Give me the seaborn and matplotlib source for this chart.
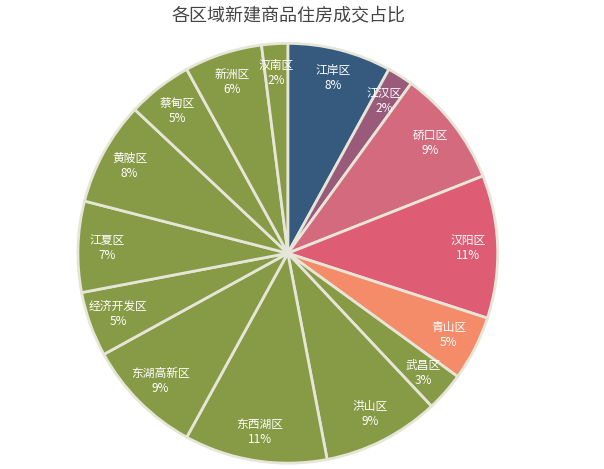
import matplotlib
matplotlib.use("Agg")
import matplotlib.pyplot as plt
import seaborn as sns

sns.set_theme(style="white")
plt.rcParams["font.family"] = "Noto Sans CJK SC"

districts = ["江岸区", "江汉区", "硚口区", "汉阳区", "青山区", "武昌区", "洪山区", "东西湖区",
             "东湖高新区", "经济开发区", "江夏区", "黄陂区", "蔡甸区", "新洲区", "汉南区"]
shares = [8, 2, 9, 11, 5, 3, 9, 11, 9, 5, 7, 8, 5, 6, 2]
olive = "#879a45"
colors = ["#355a7e", "#9a5a7a", "#d46a7e", "#de5c74", "#f48c6a"] + [olive] * 10

fig = plt.figure(figsize=(6.04, 4.69), dpi=100)
ax = fig.add_axes([0.129, 0.012, 0.695, 0.896])
wedges, _ = ax.pie(shares, colors=colors, startangle=90, counterclock=False,
                   wedgeprops=dict(edgecolor="#e6e6d8", linewidth=2))
import numpy as np
total = sum(shares)
cum = 0
for name, v in zip(districts, shares):
    mid = 90 - 360 * (cum + v / 2) / total
    cum += v
    r = 0.86
    x, y = r * np.cos(np.radians(mid)), r * np.sin(np.radians(mid))
    ax.text(x, y, f"{name}\n{v}%", ha="center", va="center", color="white",
            fontsize=8.5, linespacing=1.2)
ax.set_xlim(-1.0, 1.0)
ax.set_ylim(-1.0, 1.0)
ax.set_aspect("equal")
fig.text(0.477, 0.965, "各区域新建商品住房成交占比", ha="center", va="center",
         fontsize=13, color="#444444")
fig.savefig("out.png", dpi=100)
